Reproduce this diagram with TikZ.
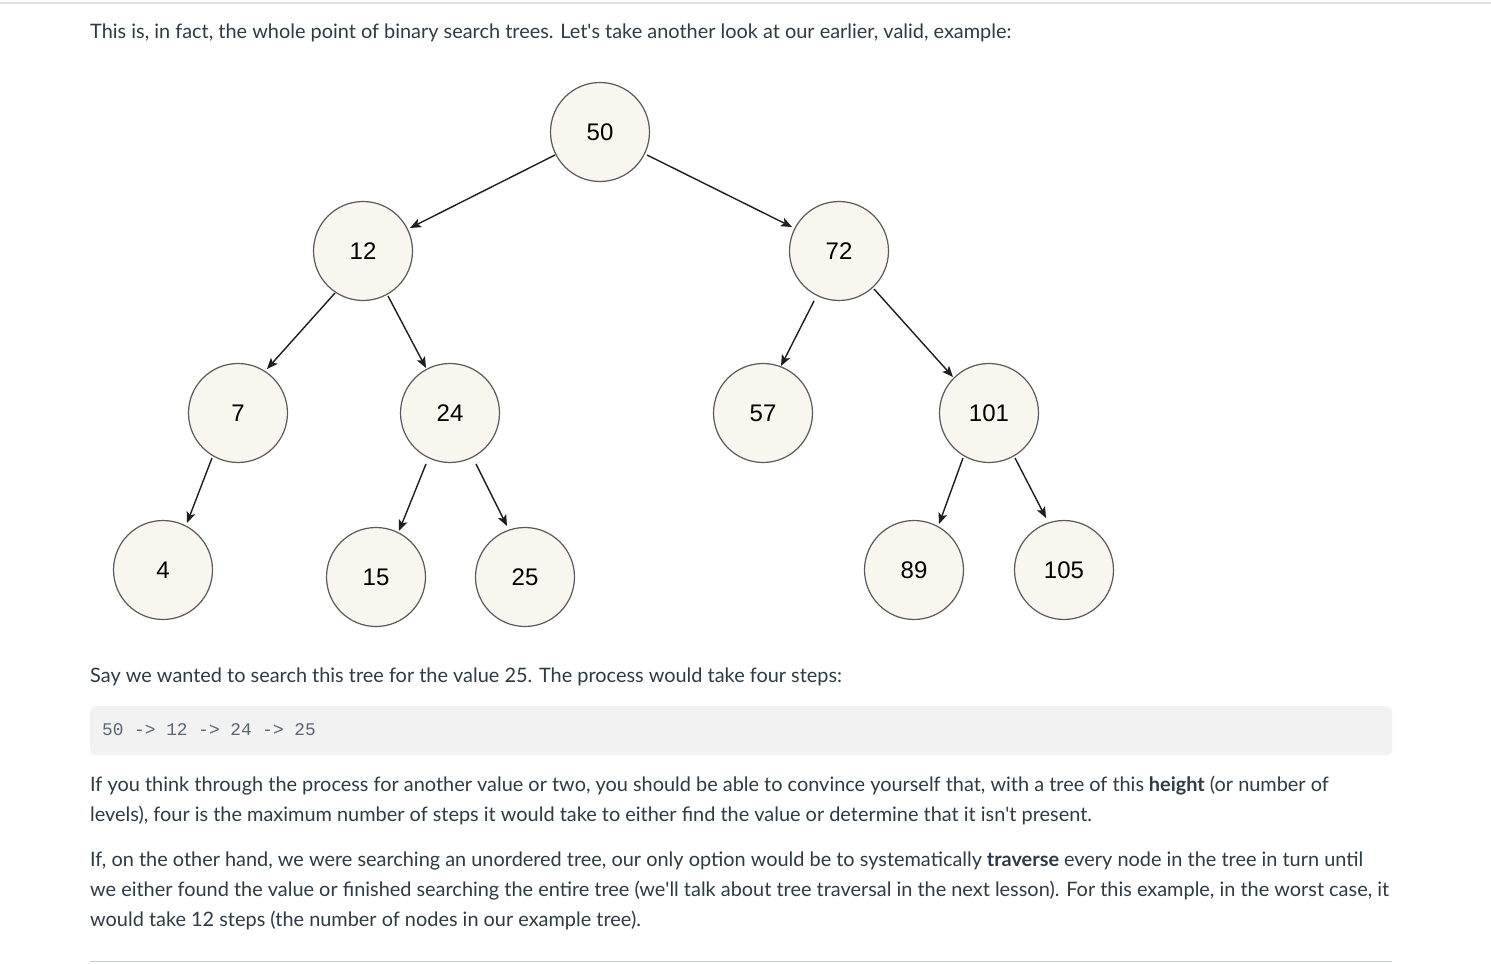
\documentclass[tikz,border=0pt]{standalone}
\usepackage{fontspec}
\setmainfont{Lato}
\setmonofont{Liberation Mono}
\newfontfamily\numfont{Liberation Sans}
\usetikzlibrary{arrows.meta,calc}
\definecolor{txtc}{HTML}{2D3B45}
\definecolor{circlef}{HTML}{F8F6EE}
\definecolor{circlec}{HTML}{5A5A5A}
\definecolor{edgec}{HTML}{1E1E1E}
\definecolor{codebg}{HTML}{F2F2F2}
\definecolor{codec}{HTML}{5A6570}
\definecolor{toplinec}{HTML}{DCE4E9}
\definecolor{botlinec}{HTML}{C7CDD1}
\begin{document}
\begin{tikzpicture}[x=1pt,y=-1pt,
  bst/.style={circle,draw=circlec,fill=circlef,line width=1.2pt,minimum size=99pt,inner sep=0pt,
    font=\numfont\fontsize{24}{24}\selectfont,text=black},
  edge/.style={line width=1.4pt,draw=edgec,-{Stealth[length=11pt,width=9pt,inset=2.5pt]}},
  txt/.style={anchor=base west,inner sep=0pt,text=txtc,font=\fontsize{19.9}{30}\selectfont},
  codebox/.style={fill=codebg,rounded corners=6pt,minimum width=1302pt,minimum height=49pt,anchor=north west,inner sep=0pt},
  codetxt/.style={anchor=base west,inner sep=0pt,text=codec,font=\ttfamily\fontsize{17.8}{20}\selectfont}]
\useasboundingbox (0,0) rectangle (1491,965);
\fill[white] (0,0) rectangle (1491,965);
\draw[toplinec,line width=2pt] (0,3) -- (1491,3);

\node[txt] (t1) at (90,39) {This is, in fact, the whole point of binary search trees. Let\textquotesingle s take another look at our earlier, valid, example:};

% tree nodes
\node[bst] (n50) at (600,132) {50};
\node[bst] (n12) at (363,251) {12};
\node[bst] (n72) at (839,251) {72};
\node[bst] (n7) at (238,413) {7};
\node[bst] (n24) at (450,413) {24};
\node[bst] (n57) at (763,413) {57};
\node[bst] (n101) at (989,413) {101};
\node[bst] (n4) at (163,570) {4};
\node[bst] (n15) at (376,577) {15};
\node[bst] (n25) at (525,577) {25};
\node[bst] (n89) at (914,570) {89};
\node[bst] (n105) at (1064,570) {105};

% edges
\draw[edge] ($(n50)+(-45,23)$) -- ($(n12)+(47,-23)$);
\draw[edge] ($(n50)+(47,23)$) -- ($(n72)+(-47,-24)$);
\draw[edge] ($(n12)+(-28,42)$) -- ($(n7)+(29,-44)$);
\draw[edge] ($(n12)+(25,45)$) -- ($(n24)+(-24,-45)$);
\draw[edge] ($(n72)+(-25,50)$) -- ($(n57)+(18,-47)$);
\draw[edge] ($(n72)+(35,38)$) -- ($(n101)+(-36,-36)$);
\draw[edge] ($(n7)+(-26,45)$) -- ($(n4)+(24,-47)$);
\draw[edge] ($(n24)+(-24,51)$) -- ($(n15)+(23,-46)$);
\draw[edge] ($(n24)+(26,51)$) -- ($(n25)+(-18,-51)$);
\draw[edge] ($(n101)+(-26,45)$) -- ($(n89)+(25,-46)$);
\draw[edge] ($(n101)+(26,45)$) -- ($(n105)+(-18,-52)$);

\node[txt] (t2) at (90,682) {Say we wanted to search this tree for the value 25. The process would take four steps:};

\node[codebox] (code) at (90,706) {};
\node[codetxt] (codet) at (102,735) {50 -> 12 -> 24 -> 25};

\node[txt] (t3) at (90,791) {If you think through the process for another value or two, you should be able to convince yourself that, with a tree of this \textbf{height} (or number of};
\node[txt] (t4) at (90,821) {levels), four is the maximum number of steps it would take to either find the value or determine that it isn\textquotesingle t present.};

\node[txt] (t5) at (90,866) {If, on the other hand, we were searching an unordered tree, our only option would be to systematically \textbf{traverse} every node in the tree in turn until};
\node[txt] (t6) at (90,896) {we either found the value or finished searching the entire tree (we\textquotesingle ll talk about tree traversal in the next lesson). For this example, in the worst case, it};
\node[txt] (t7) at (90,926) {would take 12 steps (the number of nodes in our example tree).};

\draw[botlinec,line width=1pt] (90,961) -- (1392,961);
\end{tikzpicture}
\end{document}
